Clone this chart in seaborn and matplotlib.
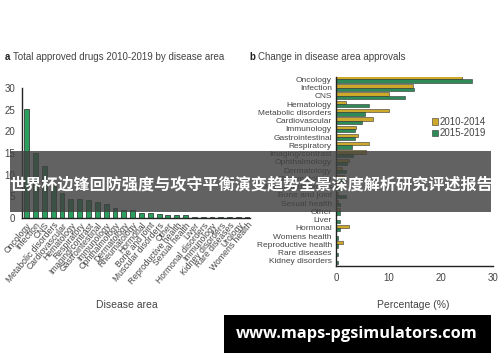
import matplotlib
matplotlib.use("Agg")
import matplotlib.pyplot as plt
from matplotlib.patches import Rectangle
import pandas as pd
import seaborn as sns

sns.set_style("ticks")
plt.rcParams['font.family'] = ['Liberation Sans', 'DejaVu Sans']

# panel a: total approved drugs 2010-2019 (%)
areas_a = ['Oncology', 'Infection', 'CNS', 'Metabolic disorders', 'Cardiovascular',
           'Hematology', 'Respiratory', 'Imaging/contrast', 'Gastrointestinal',
           'Immunology', 'Ophthalmology', 'Dermatology', 'Rheumatology', 'Hormonal',
           'Bone and joint', 'Muscular disorders', 'Other', 'Reproductive health',
           'Sexual health', 'Liver', 'Hormonal disorders', 'Immunology',
           'Kidney disorders', 'Rare diseases', 'Urology', 'Womens health']
total_a = [25.2, 15.0, 12.0, 7.5, 5.7, 4.4, 4.4, 4.1, 3.8, 3.3, 2.3, 1.8, 1.8, 1.2,
           1.2, 0.9, 0.7, 0.7, 0.6, 0.3, 0.15, 0.15, 0.15, 0.15, 0.15, 0.15]

# panel b: change in disease area approvals (%)
areas_b = ['Oncology', 'Infection', 'CNS', 'Hematology', 'Metabolic disorders',
           'Cardiovascular', 'Immunology', 'Gastrointestinal', 'Respiratory',
           'Imaging/contrast', 'Ophthalmology', 'Dermatology', 'Rheumatology',
           'Muscular disorders', 'Bone and joint', 'Sexual health', 'Other', 'Liver',
           'Hormonal', 'Womens health', 'Reproductive health', 'Rare diseases',
           'Kidney disorders']
pct_1014 = [24.2, 14.7, 10.2, 1.9, 10.2, 7.0, 3.8, 4.3, 6.3, 5.7, 2.4, 1.2, 1.5,
            0.6, 0.4, 0.4, 0.8, 0.0, 2.5, 0.0, 1.3, 0.0, 0.0]
pct_1519 = [26.0, 15.0, 13.2, 6.3, 5.5, 5.0, 3.6, 3.6, 3.1, 3.2, 2.1, 1.9, 2.0,
            1.2, 1.9, 0.8, 0.8, 0.8, 0.8, 0.4, 0.4, 0.4, 0.4]
periods = ['2010-2014', '2015-2019']

df_b = pd.DataFrame({
    'area': areas_b * 2,
    'period': [periods[0]] * len(areas_b) + [periods[1]] * len(areas_b),
    'pct': pct_1014 + pct_1519,
})

txt = '#444444'
fig = plt.figure(figsize=(5, 3.62), dpi=100)

# ---- a ----
axa = fig.add_axes([22/500, 1-218/362, 228/500, 130/362])
sns.barplot(x=list(range(len(areas_a))), y=total_a, color='#17b45c', width=0.55,
            edgecolor='#222222', linewidth=0.5, ax=axa)
axa.set_xlim(-0.53, 25.3)
axa.set_ylim(0, 30)
axa.set_yticks([0, 5, 10, 15, 20, 25, 30])
axa.set_xticks(range(len(areas_a)))
axa.set_xticklabels(areas_a, rotation=50, ha='right', rotation_mode='anchor')
axa.tick_params(axis='x', labelsize=6.2, length=0, pad=2, labelcolor=txt)
axa.tick_params(axis='y', labelsize=7, length=0, pad=5, labelcolor=txt)
axa.set_xlabel('Disease area', fontsize=7.5, color=txt)
axa.xaxis.set_label_coords((127-22)/228, -(300-218)/130)
sns.despine(ax=axa)
for s in ['left', 'bottom']:
    axa.spines[s].set_color('#222222')
    axa.spines[s].set_linewidth(1)

# ---- b ----
axb = fig.add_axes([336/500, 1-265.7/362, 156.7/500, 189/362])
sns.barplot(data=df_b, y='area', x='pct', hue='period', order=areas_b,
            hue_order=periods, palette=['#e8b70f', '#1f9a55'], orient='h',
            edgecolor='#333333', linewidth=0.4, ax=axb)
axb.set_xlim(0, 30)
axb.set_ylim(22.57, -0.31)
axb.set_xticks([0, 10, 20, 30])
axb.set_ylabel('')
axb.set_xlabel('Percentage (%)', fontsize=7.5, color=txt)
axb.xaxis.set_label_coords(0.49, -(300-265.7)/189)
axb.tick_params(axis='y', labelsize=6, length=0, pad=3, labelcolor=txt)
axb.tick_params(axis='x', labelsize=7, length=0, pad=5, labelcolor=txt)
sns.despine(ax=axb)
for s in ['left', 'bottom']:
    axb.spines[s].set_color('#222222')
    axb.spines[s].set_linewidth(1)
axb.legend(loc='upper left', bbox_to_anchor=(428/500, 1-113/362),
           bbox_transform=fig.transFigure, frameon=False, fontsize=7,
           handlelength=0.6, handleheight=0.6, handletextpad=0.2,
           labelspacing=0.15, borderaxespad=0, labelcolor=txt)

# titles
fig.text(5/500, 1-57/362, 'a', fontsize=7, fontweight='bold', va='center', color='#222222')
fig.text(13/500, 1-57/362, 'Total approved drugs 2010-2019 by disease area',
         fontsize=7, va='center', color=txt)
fig.text(249/500, 1-57/362, 'b', fontsize=7, fontweight='bold', va='center', color='#222222')
fig.text(258/500, 1-57/362, 'Change in disease area approvals',
         fontsize=7, va='center', color=txt)

# overlay banner and site box
fig.patches.append(Rectangle((10/500, 1-212/362), 481/500, 61/362,
                             transform=fig.transFigure, facecolor='#404040',
                             alpha=0.82, edgecolor='none', zorder=5))
fig.text(251/500, 1-185/362, '世界杯边锋回防强度与攻守平衡演变趋势全景深度解析研究评述报告',
         fontsize=11.6, fontweight='bold', color='white', ha='center', va='center',
         family=['Noto Sans CJK SC', 'DejaVu Sans'], zorder=6)
fig.patches.append(Rectangle((224/500, 1-353/362), 267/500, 38/362,
                             transform=fig.transFigure, facecolor='black',
                             edgecolor='none', zorder=5))
fig.text(357/500, 1-334/362, 'www.maps-pgsimulators.com', fontsize=11.8,
         fontweight='bold', color='white', ha='center', va='center',
         family=['Open Sans', 'DejaVu Sans'], zorder=6)

fig.savefig('out.png', dpi=100)
